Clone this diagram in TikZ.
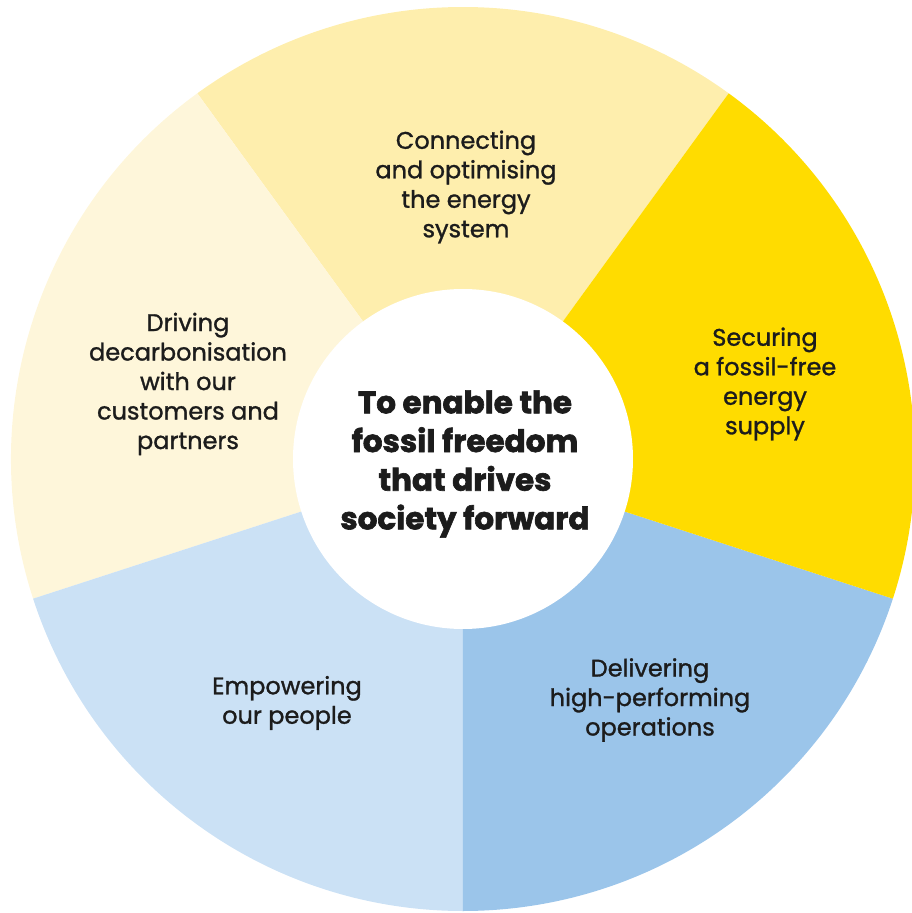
\documentclass[tikz,border=0pt]{standalone}
\usepackage{fontspec}
\setmainfont{Poppins}
\newfontfamily\lblfont{Poppins}[FakeBold=1.2]
\newfontfamily\hubfont{Poppins}[BoldFeatures={FakeBold=2}]
\definecolor{cConn}{HTML}{FEEEAD}
\definecolor{cDrive}{HTML}{FEF6DA}
\definecolor{cSecure}{HTML}{FFDC00}
\definecolor{cDeliver}{HTML}{9BC5EA}
\definecolor{cEmpower}{HTML}{CBE1F5}
\definecolor{ink}{HTML}{1C1C1C}
\tikzset{
  lbl/.style={align=center,text=ink,font=\lblfont\fontsize{24}{29.5}\selectfont},
  hub/.style={circle,fill=white,minimum size=340pt,inner sep=0pt},
  hubtxt/.style={align=center,text=ink,font=\hubfont\fontsize{31}{38.7}\selectfont\bfseries},
}
\begin{document}
\begin{tikzpicture}[x=1pt,y=1pt]
\useasboundingbox (-463,-454) rectangle (449,459);
\fill[cConn]    (0,0) -- (54:452)  arc[start angle=54,end angle=126,radius=452] -- cycle;
\fill[cDrive]   (0,0) -- (126:452) arc[start angle=126,end angle=198,radius=452] -- cycle;
\fill[cEmpower] (0,0) -- (198:452) arc[start angle=198,end angle=270,radius=452] -- cycle;
\fill[cDeliver] (0,0) -- (270:452) arc[start angle=270,end angle=342,radius=452] -- cycle;
\fill[cSecure]  (0,0) -- (-18:452) arc[start angle=-18,end angle=54,radius=452] -- cycle;
\node[hub] (hub) at (0,0) {};
\node[hubtxt] (hubtext) at (2,-5) {To enable the\\fossil freedom\\that drives\\society forward};
\node[lbl] (conn) at (3,272) {Connecting\\and optimising\\the energy\\system};
\node[lbl] (secure) at (302,75) {Securing\\a fossil-free\\energy\\supply};
\node[lbl] (deliver) at (187,-241) {Delivering\\high-performing\\operations};
\node[lbl] (empower) at (-176,-244) {Empowering\\our people};
\node[lbl] (drive) at (-275,75) {Driving\\decarbonisation\\with our\\customers and\\partners};
\end{tikzpicture}
\end{document}
